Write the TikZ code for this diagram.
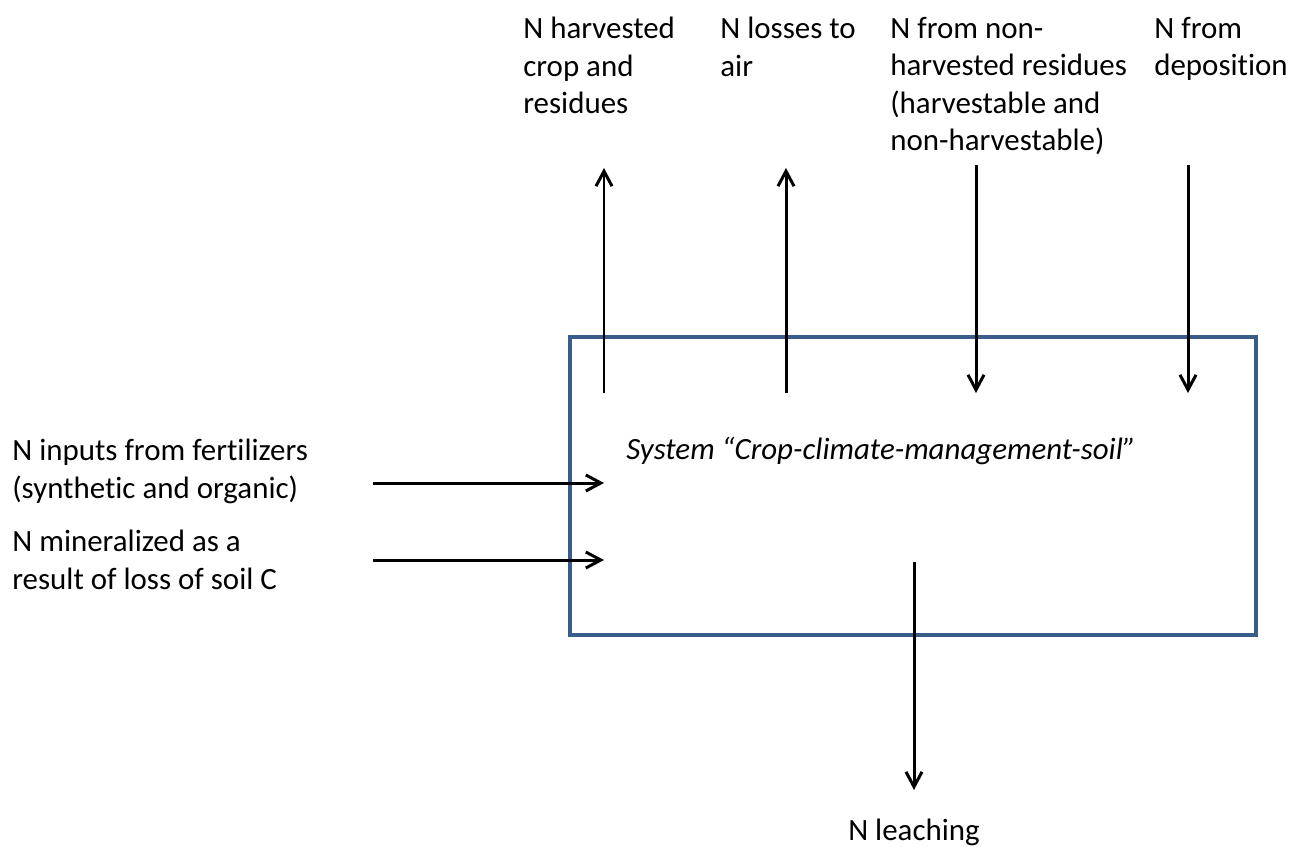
\documentclass[tikz,border=0pt]{standalone}
\usepackage{fontspec}
\setmainfont{Carlito}[Ligatures={NoCommon,NoContextual}]
\usetikzlibrary{arrows.meta, positioning}
\definecolor{boxblue}{RGB}{56,93,138}
\tikzset{
  % Text and flow styles
  flowtext/.style={anchor=north west, inner sep=0pt, align=left, font=\fontsize{17.6}{21.3}\selectfont},
  flow/.style={-{Straight Barb[length=3mm, width=3.2mm]}, line width=1.7pt},
  % System box
  system/.style={rectangle, draw=boxblue, line width=2.3pt, anchor=north west, minimum width=13.72cm, minimum height=5.96cm, inner sep=0pt},
}
\begin{document}
\begin{tikzpicture}[x=0.02cm, y=-0.02cm]
    \useasboundingbox (0,0) rectangle (1292,846);

    % System
    \node[system] (sys) at (568,335) {};
    \node[flowtext, font=\fontsize{17.6}{21.3}\selectfont\itshape] (systxt) at (626,437) {System “Crop-climate-management-soil”};

    % Outputs and inputs at the top
    \node[flowtext] (harv) at (523,17) {N harvested\\crop and\\residues};
    \node[flowtext] (air) at (720,17) {N losses to\\air};
    \node[flowtext] (resid) at (890,17) {N from non-\\harvested residues\\(harvestable and\\non-harvestable)};
    \node[flowtext] (depo) at (1154,17) {N from\\deposition};

    % Inputs on the left
    \node[flowtext] (fert) at (12,439) {N inputs from fertilizers\\(synthetic and organic)};
    \node[flowtext] (miner) at (12,530) {N mineralized as a\\result of loss of soil C};

    % Output at the bottom
    \node[flowtext, anchor=north] (leach) at (914,819) {N leaching};

    % Arrow ends
    \coordinate (harv-in) at (604,393);
    \coordinate (harv-out) at (604,168);
    \coordinate (air-in) at (786,393);
    \coordinate (air-out) at (786,168);
    \coordinate (resid-out) at (976,165);
    \coordinate (resid-in) at (976,393);
    \coordinate (depo-out) at (1188,165);
    \coordinate (depo-in) at (1188,393);
    \coordinate (fert-out) at (373,483);
    \coordinate (fert-in) at (604,483);
    \coordinate (miner-out) at (373,560);
    \coordinate (miner-in) at (604,560);
    \coordinate (leach-in) at (914,562);
    \coordinate (leach-out) at (914,790);

    % Arrows
    \draw[flow] (harv-in) -- (harv-out);
    \draw[flow] (air-in) -- (air-out);
    \draw[flow] (resid-out) -- (resid-in);
    \draw[flow] (depo-out) -- (depo-in);
    \draw[flow] (fert-out) -- (fert-in);
    \draw[flow] (miner-out) -- (miner-in);
    \draw[flow] (leach-in) -- (leach-out);
\end{tikzpicture}
\end{document}
